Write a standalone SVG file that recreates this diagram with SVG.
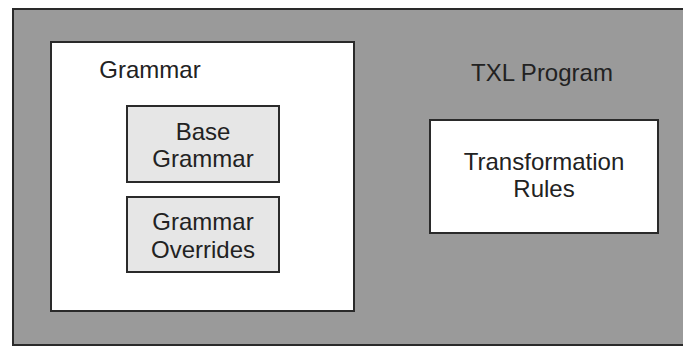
<svg xmlns="http://www.w3.org/2000/svg" width="683" height="348" viewBox="0 0 683 348">
  <style>
    .lbl { font-family: "Liberation Sans", Arial, sans-serif; font-size: 24px; fill: #222; text-anchor: middle; }
    .box { stroke: #2a2a2a; stroke-width: 2; }
  </style>
  <rect width="683" height="348" fill="#ffffff"/>
  <g id="txl-program">
    <rect class="box" x="13" y="9" width="690" height="336" fill="#9a9a9a"/>
    <text class="lbl" x="542" y="81">TXL Program</text>
  </g>
  <g id="grammar">
    <rect class="box" x="51" y="42" width="303" height="269" fill="#ffffff"/>
    <text class="lbl" x="150" y="78">Grammar</text>
  </g>
  <g id="base-grammar">
    <rect class="box" x="127" y="106" width="152" height="76" fill="#e6e6e6"/>
    <text class="lbl" x="203" y="140">Base</text>
    <text class="lbl" x="203" y="167">Grammar</text>
  </g>
  <g id="grammar-overrides">
    <rect class="box" x="127" y="197" width="152" height="75" fill="#e6e6e6"/>
    <text class="lbl" x="203" y="230">Grammar</text>
    <text class="lbl" x="203" y="258">Overrides</text>
  </g>
  <g id="transformation-rules">
    <rect class="box" x="430" y="120" width="228" height="113" fill="#ffffff"/>
    <text class="lbl" x="544" y="170">Transformation</text>
    <text class="lbl" x="544" y="197">Rules</text>
  </g>
  <g id="connectors"/>
</svg>
